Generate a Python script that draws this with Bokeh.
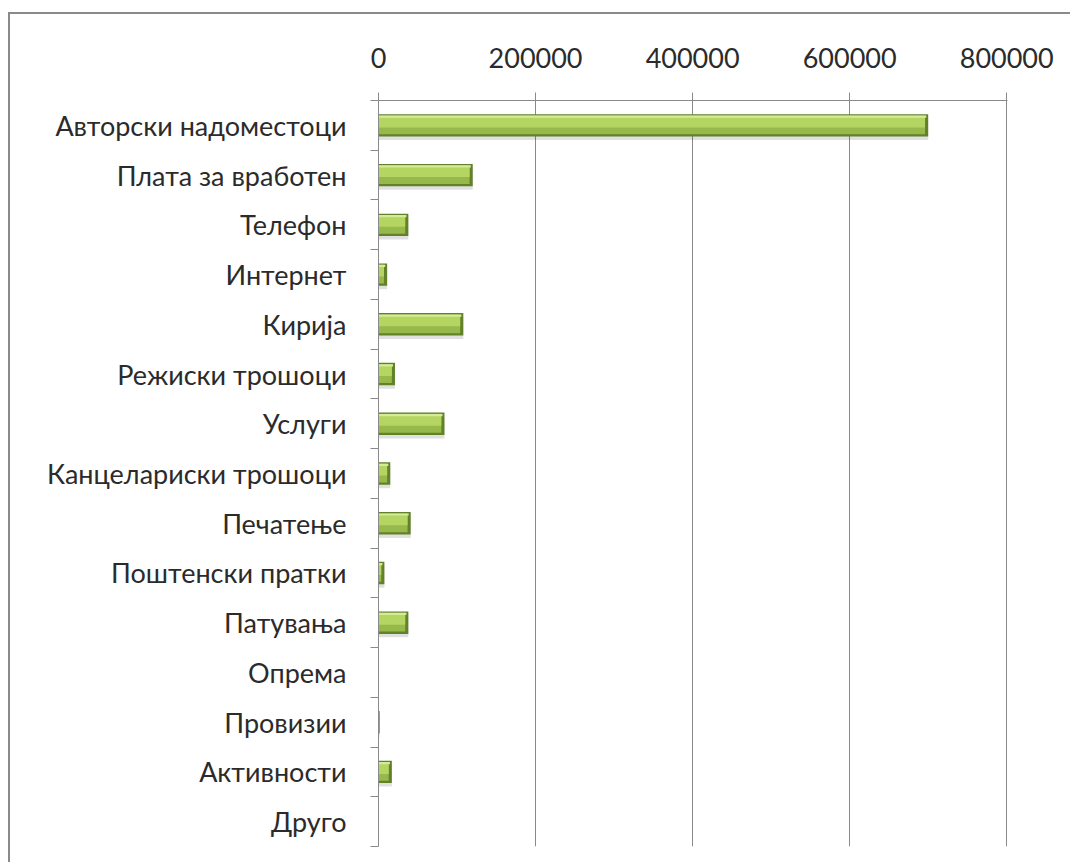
from bokeh.plotting import figure
from bokeh.models import Range1d, FixedTicker, NumeralTickFormatter, ColumnDataSource
from bokeh.transform import dodge
from bokeh.embed import file_html
from bokeh.resources import INLINE

categories = ["Авторски надоместоци", "Плата за вработен", "Телефон", "Интернет",
              "Кирија", "Режиски трошоци", "Услуги", "Канцелариски трошоци",
              "Печатење", "Поштенски пратки", "Патувања", "Опрема", "Провизии",
              "Активности", "Друго"]
values = [700000, 120000, 38000, 11000, 108000, 21000, 84000, 15000,
          41000, 7500, 38000, 0, 1500, 17000, 500]
x_ticks = [0, 200000, 400000, 600000, 800000]

n = len(categories)
src = ColumnDataSource(dict(y=list(range(n)), v=values, cat=categories))

FONT = "Lato"
GRAY = "#8a8a8a"

p = figure(width=1062, height=850,
           x_range=Range1d(0, 801000), y_range=Range1d(n - 0.5, -0.5),
           x_axis_location="above", output_backend="svg", toolbar_location=None,
           min_border_left=368, min_border_top=86, min_border_right=65,
           min_border_bottom=18)
p.styles = {"border-left": "2px solid #8a8a8a", "border-top": "2px solid #8a8a8a",
            "margin-top": "12px", "margin-left": "8px"}
p.outline_line_color = None
p.background_fill_color = "white"
p.border_fill_color = "white"

# x axis (top)
xa = p.xaxis[0]
xa.ticker = FixedTicker(ticks=x_ticks)
xa.formatter = NumeralTickFormatter(format="0")
xa.major_tick_out = 8
xa.major_tick_in = 0
xa.minor_tick_out = 0
xa.minor_tick_in = 0
xa.axis_line_color = GRAY
xa.major_tick_line_color = GRAY
xa.major_label_text_font = FONT
xa.major_label_text_font_size = "27px"
xa.major_label_text_color = "#2b2b2b"
xa.major_label_standoff = 25

# y axis (left), ticks between categories
ya = p.yaxis[0]
ya.ticker = FixedTicker(ticks=list(range(n)), minor_ticks=[i - 0.5 for i in range(n + 1)])
ya.major_label_overrides = {i: c for i, c in enumerate(categories)}
ya.major_tick_out = 0
ya.major_tick_in = 0
ya.minor_tick_out = 8
ya.minor_tick_in = 0
ya.minor_tick_line_color = GRAY
ya.axis_line_color = GRAY
ya.major_label_text_font = FONT
ya.major_label_text_font_size = "27px"
ya.major_label_text_color = "#2b2b2b"
ya.major_label_standoff = 24

p.xgrid.grid_line_color = GRAY
p.xgrid.grid_line_width = 1
p.ygrid.grid_line_color = None

h = 0.45
yr = p.y_range
# shadow
p.hbar(y=dodge("y", 0.07, range=yr), left=0, right="v", height=h, source=src,
       fill_color="black", fill_alpha=0.12, line_color=None)
# base (dark edge)
p.hbar(y="y", left=0, right="v", height=h, source=src,
       fill_color="#62822a", line_color=None)
# body
p.hbar(y=dodge("y", -0.01, range=yr), left=0, right=dodge("v", -4000), height=h * 0.84,
       source=src, fill_color="#97b84a", line_color=None)
# upper bright band
p.hbar(y=dodge("y", -h * 0.16, range=yr), left=0, right=dodge("v", -4000), height=h * 0.50,
       source=src, fill_color="#b5d562", line_color=None)
# top highlight
p.hbar(y=dodge("y", -h * 0.39, range=yr), left=0, right=dodge("v", -2500), height=h * 0.10,
       source=src, fill_color="#d4ec98", line_color=None)

open("out.html", "w").write(file_html(p, INLINE))
